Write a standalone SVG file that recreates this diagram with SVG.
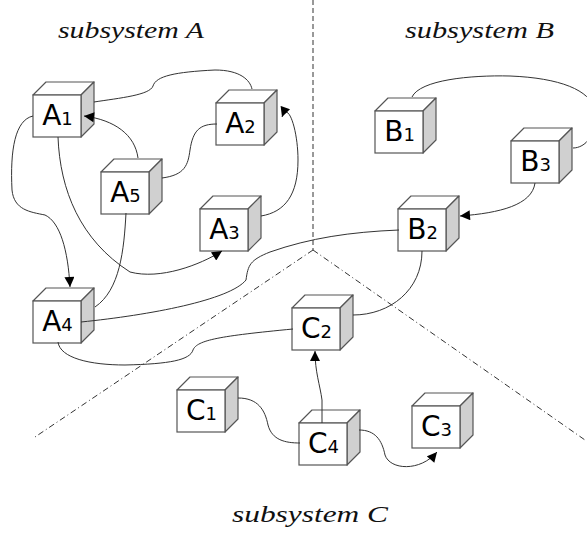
<svg xmlns="http://www.w3.org/2000/svg" xmlns:xlink="http://www.w3.org/1999/xlink" width="587" height="543" viewBox="0 0 587 543">
  <style>
    .title { font-family: "Liberation Serif", "Times New Roman", serif; font-style: italic; font-size: 24px; fill: #111; }
    .lbl { font-family: "DejaVu Sans", Verdana, sans-serif; font-size: 28px; fill: #000; text-anchor: middle; }
    .sub { font-size: 18px; }
    .front { fill: #fff; stroke: #555; stroke-width: 1.2; }
    .top { fill: #fff; stroke: #555; stroke-width: 1.2; stroke-linejoin: round; }
    .side { fill: #d0d0d0; stroke: #555; stroke-width: 1.2; stroke-linejoin: round; }
    .wire { fill: none; stroke: #333; stroke-width: 1; }
    .arrow { marker-end: url(#head); }
    .border { fill: none; stroke: #333; stroke-width: 1; }
    .vert { stroke-dasharray: 5 3; }
    .diag { stroke-dasharray: 6 3 1 3; }
  </style>
  <defs>
    <marker id="head" viewBox="0 0 10 10" refX="10" refY="5" markerWidth="11" markerHeight="10" markerUnits="userSpaceOnUse" orient="auto">
      <path d="M0,0 L10,5 L0,10 Z" fill="#000"/>
    </marker>
    <!-- cube: front face 48x42 at origin, 13px depth up-right -->
    <g id="cube">
      <polygon class="top" points="0,0 13,-13 61,-13 48,0"/>
      <polygon class="side" points="48,0 61,-13 61,29 48,42"/>
      <rect class="front" x="0" y="0" width="48" height="42"/>
    </g>
  </defs>

  <rect width="587" height="543" fill="#fff"/>

  <!-- subsystem borders -->
  <g id="borders">
    <path class="border vert" d="M313,0 V250"/>
    <path class="border diag" d="M313,250 L35,437"/>
    <path class="border diag" d="M313,250 L585,440"/>
  </g>

  <!-- subsystem titles -->
  <text class="title" x="58" y="38" textLength="146" lengthAdjust="spacingAndGlyphs">subsystem A</text>
  <text class="title" x="405" y="38" textLength="149" lengthAdjust="spacingAndGlyphs">subsystem B</text>
  <text class="title" x="232" y="522" textLength="156" lengthAdjust="spacingAndGlyphs">subsystem C</text>

  <!-- nodes -->
  <g id="A1"><use xlink:href="#cube" href="#cube" x="33" y="95"/><text class="lbl" x="57.5" y="125">A<tspan class="sub">1</tspan></text></g>
  <g id="A2"><use xlink:href="#cube" href="#cube" x="216" y="103"/><text class="lbl" x="240.5" y="133">A<tspan class="sub">2</tspan></text></g>
  <g id="A5"><use xlink:href="#cube" href="#cube" x="101" y="172"/><text class="lbl" x="125.5" y="202">A<tspan class="sub">5</tspan></text></g>
  <g id="A3"><use xlink:href="#cube" href="#cube" x="200" y="209"/><text class="lbl" x="224.5" y="239">A<tspan class="sub">3</tspan></text></g>
  <g id="A4"><use xlink:href="#cube" href="#cube" x="33" y="301"/><text class="lbl" x="57.5" y="331">A<tspan class="sub">4</tspan></text></g>
  <g id="B1"><use xlink:href="#cube" href="#cube" x="375" y="111"/><text class="lbl" x="399.5" y="141">B<tspan class="sub">1</tspan></text></g>
  <g id="B3"><use xlink:href="#cube" href="#cube" x="511" y="141"/><text class="lbl" x="535.5" y="171">B<tspan class="sub">3</tspan></text></g>
  <g id="B2"><use xlink:href="#cube" href="#cube" x="398" y="209"/><text class="lbl" x="422.5" y="239">B<tspan class="sub">2</tspan></text></g>
  <g id="C2"><use xlink:href="#cube" href="#cube" x="292" y="308"/><text class="lbl" x="316.5" y="338">C<tspan class="sub">2</tspan></text></g>
  <g id="C1"><use xlink:href="#cube" href="#cube" x="177" y="390"/><text class="lbl" x="201.5" y="420">C<tspan class="sub">1</tspan></text></g>
  <g id="C4"><use xlink:href="#cube" href="#cube" x="299" y="423"/><text class="lbl" x="323.5" y="453">C<tspan class="sub">4</tspan></text></g>
  <g id="C3"><use xlink:href="#cube" href="#cube" x="412" y="406"/><text class="lbl" x="436.5" y="436">C<tspan class="sub">3</tspan></text></g>

  <!-- connectors, drawn over the cubes -->
  <g id="connectors">
    <path class="wire" d="M94,102 C120,98 150,95 153,86 C156,76 175,72 215,70 C240,70 250,80 252,89"/>
    <path class="wire arrow" d="M138,158 C135,135 115,120 84,116"/>
    <path class="wire" d="M162,178 C185,175 188,165 190,150 C193,130 200,124 217,124"/>
    <path class="wire arrow" d="M33,116 C15,120 10,150 12,190 C14,210 30,212 45,215 C60,222 68,250 70,287"/>
    <path class="wire arrow" d="M58,137 C60,190 80,240 130,272 C160,280 200,265 222,251"/>
    <path class="wire arrow" d="M261,216 C285,212 298,195 298,160 C298,130 288,100 282,117"/>
    <path class="wire" d="M126,213 C124,250 120,290 95,307"/>
    <path class="wire" d="M81,322 C150,315 230,300 246,280 C248,265 250,260 270,252 C310,238 350,232 399,230"/>
    <path class="wire" d="M58,342 C60,358 90,365 125,365 C170,364 190,360 193,350 C197,340 220,336 293,329"/>
    <path class="wire" d="M422,251 C422,290 390,315 353,315"/>
    <path class="wire" d="M412,97 C420,80 470,75 510,76 C560,78 590,90 595,110 C598,135 585,148 573,148"/>
    <path class="wire arrow" d="M535,183 C532,205 500,213 460,216"/>
    <path class="wire arrow" d="M322,423 L322,400 C320,385 315,372 315,351"/>
    <path class="wire" d="M238,398 C258,398 265,410 268,425 C272,440 285,443 300,443"/>
    <path class="wire arrow" d="M359,430 C375,430 382,440 385,455 C390,470 420,472 437,452"/>
  </g>
</svg>
